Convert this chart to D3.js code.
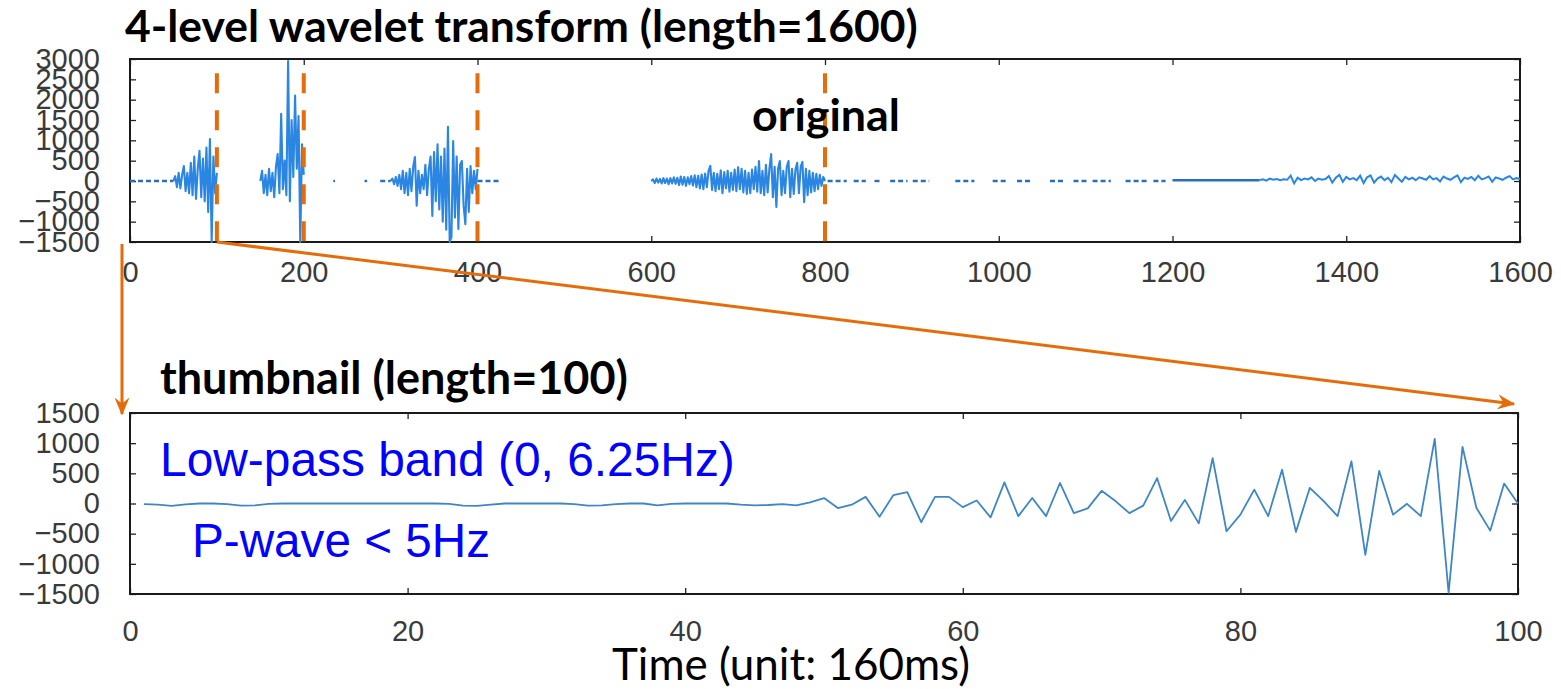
<!DOCTYPE html>
<html><head><meta charset="utf-8">
<script src="https://cdn.jsdelivr.net/npm/d3@7"></script>
<style>body{margin:0;background:#fff;} svg{display:block}</style>
</head><body>
<svg id="c" width="1561" height="689"></svg>
<script>
// ---------------- data ----------------
const topXTicks = [0,200,400,600,800,1000,1200,1400,1600];
const topYTicks = [3000,2500,2000,1500,1000,500,0,-500,-1000,-1500];
const botXTicks = [0,20,40,60,80,100];
const botYTicks = [1500,1000,500,0,-500,-1000,-1500];
const markerPositions = [100,200,400,800];

const burstStarts = [50,150,300,600];
const burstStep = 2;
const burst1 = [0,120,-150,200,-180,150,370,-250,200,-300,450,-350,600,-440,300,740,-400,550,-500,820,-760,1030,-1500,600,-300,200];
const burst2 = [0,250,-300,150,-350,300,-250,200,-400,350,660,-300,1650,-200,500,-350,2950,-500,1500,100,2100,300,1600,-1500,900,150];
const burst3 = [0,60,-80,100,-120,150,-200,250,-300,200,
  -350,300,-250,350,590,-610,250,-300,150,-200,
  400,-350,300,600,-860,710,-500,900,-700,600,
  -1000,800,-1200,1330,-1500,-1380,980,-900,600,-1180,
  400,490,-600,-1060,300,-760,370,-300,250,-200,300];
const burst4 = [0,40,-50,60,-40,50,-60,70,-50,60,
  -80,70,-60,90,-70,80,-100,110,-90,100,
  -120,90,-80,120,-110,140,-150,130,-180,160,
  -200,180,-150,250,370,-220,200,-250,180,-200,
  260,-300,220,-180,250,-260,200,-220,280,-250,
  340,-200,300,-280,250,-320,200,-300,280,-200,
  350,-260,490,-300,250,-350,400,-280,300,660,
  -400,350,-640,300,490,-350,250,-300,350,490,
  -400,300,-320,280,450,-300,350,470,-520,300,
  -350,250,-280,200,-250,180,-200,150,-120,100,0];
const tailStart = 1300, tailStep = 4;
const tailValues = [20,40,10,60,30,50,20,40,30,130,
  -60,80,20,60,40,90,0,60,30,50,
  120,-40,80,150,-20,100,40,70,20,130,
  -50,90,140,-40,60,110,20,80,-30,150,
  60,-20,100,40,80,20,90,60,30,120,
  40,70,-10,110,60,30,90,140,-30,80,
  50,100,20,130,40,70,110,-20,90,60,
  30,80,120,40,70,50];
const flatDashed = [[0,50],[234,236],[270,273],[288,300],[400,426],[803,825],[833,847],[857,866],[875,895],[901,920],[950,972],[993,1010],[1021,1037],[1059,1075],[1086,1102],[1108,1129],[1146,1173],[1178,1192]];
const flatSolid = [[1200,1300]];

const thumbValues = [-10,-20,-40,-15,0,0,-10,-35,-30,-5,
  0,0,0,0,0,0,0,0,0,0,
  0,0,-5,-35,-40,-20,0,0,0,0,
  0,-10,-35,-30,-10,0,0,-30,-5,0,
  0,0,0,-20,-30,-25,-10,-30,20,90,
  -75,-20,110,-220,140,190,-310,110,110,-60,
  50,-230,350,-210,90,-210,340,-160,-80,210,
  40,-160,-35,420,-290,60,-330,750,-460,-185,
  230,-210,560,-470,260,40,-210,700,-850,540,
  -185,-5,-210,1070,-1480,940,-70,-450,330,0];

const titleTop = "4-level wavelet transform (length=1600)";
const labelOriginal = "original";
const titleBottom = "thumbnail (length=100)";
const bandText = "Low-pass band (0, 6.25Hz)";
const pwaveText = "P-wave < 5Hz";
const xAxisTitle = "Time (unit: 160ms)";

// ---------------- drawing ----------------
const svg = d3.select("#c");
const ORANGE = "#e46c0a";
const BLUE = "#2a86e2";

const xTop = d3.scaleLinear([0,1600],[130,1520]);
const yTop = d3.scaleLinear([-1500,3000],[242,59]);
const xBot = d3.scaleLinear([0,100],[130,1518]);
const yBot = d3.scaleLinear([-1500,1500],[594,413]);

const labelFont = "'Liberation Sans', Arial, sans-serif";
const titleFont = "Lato, 'Open Sans', sans-serif";
const fmt = d3.format("d");

function drawPanel(x, y, xt, yt, xPad) {
  const g = svg.append("g");
  const [x0,x1] = x.range(), [y1,y0] = y.range();
  const ax = [
    [d3.axisBottom(x).tickValues(xt).tickSize(-6).tickPadding(xPad).tickFormat(fmt), `translate(0,${y1})`],
    [d3.axisTop(x).tickValues(xt).tickSize(-6).tickFormat(""), `translate(0,${y0})`],
    [d3.axisLeft(y).tickValues(yt).tickSize(-6).tickPadding(30).tickFormat(fmt), `translate(${x0},0)`],
    [d3.axisRight(y).tickValues(yt).tickSize(-6).tickFormat(""), `translate(${x1},0)`]
  ];
  ax.forEach(([a,t]) => {
    const s = g.append("g").attr("transform", t).call(a);
    s.select(".domain").remove();
    s.selectAll("line").attr("stroke","#222").attr("stroke-width",1.3);
    s.selectAll("text").attr("font-family", labelFont).attr("font-size", 29).attr("fill","#3a3a3a");
  });
  g.append("rect").attr("x",x0).attr("y",y0).attr("width",x1-x0).attr("height",y1-y0)
    .attr("fill","none").attr("stroke","#1a1a1a").attr("stroke-width",2);
  return g;
}

const gTop = drawPanel(xTop, yTop, topXTicks, topYTicks, 19);
const gBot = drawPanel(xBot, yBot, botXTicks, botYTicks, 26);

// top signal
const lineTop = d3.line().x(d => xTop(d[0])).y(d => yTop(d[1]));
const plotTop = svg.append("g");
[burst1,burst2,burst3,burst4].forEach((vals,k) => {
  const pts = vals.map((v,i) => [burstStarts[k] + i*burstStep, v]);
  plotTop.append("path").attr("d", lineTop(pts)).attr("fill","none")
    .attr("stroke", BLUE).attr("stroke-width",2.1).attr("stroke-linejoin","round");
});
plotTop.append("path").attr("d", lineTop(tailValues.map((v,i)=>[tailStart+i*tailStep, v])))
  .attr("fill","none").attr("stroke",BLUE).attr("stroke-width",2);
flatDashed.forEach(([a,b]) => {
  plotTop.append("path").attr("d", lineTop([[a,0],[b,0]])).attr("fill","none")
    .attr("stroke","#2a6fb8").attr("stroke-width",2.4).attr("stroke-dasharray","5,3");
});
flatSolid.forEach(([a,b]) => {
  plotTop.append("path").attr("d", lineTop([[a,20],[b,20]])).attr("fill","none")
    .attr("stroke","#2a6fb8").attr("stroke-width",2.4);
});

// bottom signal
const lineBot = d3.line().x(d => xBot(d[0])).y(d => yBot(d[1]));
svg.append("path").attr("d", lineBot(thumbValues.map((v,i)=>[i+1, v])))
  .attr("fill","none").attr("stroke","#3f86c4").attr("stroke-width",1.8).attr("stroke-linejoin","round");

// dashed orange markers
markerPositions.forEach(p => {
  svg.append("line").attr("x1", xTop(p)).attr("x2", xTop(p))
    .attr("y1", yTop(2650)).attr("y2", yTop(-1500))
    .attr("stroke", ORANGE).attr("stroke-width",4).attr("stroke-dasharray","20,17");
});

// arrows
const defs = svg.append("defs");
defs.append("marker").attr("id","ah").attr("viewBox","0 0 12 10").attr("refX",11).attr("refY",5)
  .attr("markerWidth",6).attr("markerHeight",6).attr("markerUnits","strokeWidth").attr("orient","auto")
  .append("path").attr("d","M0,0 L12,5 L0,10 L4,5 Z").attr("fill",ORANGE);
svg.append("line").attr("x1", xTop(100)).attr("y1", yTop(-1500))
  .attr("x2", xBot(100) - 4).attr("y2", yBot(1500) - 9)
  .attr("stroke",ORANGE).attr("stroke-width",3).attr("marker-end","url(#ah)");
svg.append("line").attr("x1", xTop(0) - 8).attr("y1", yTop(-1500) + 2)
  .attr("x2", xTop(0) - 8).attr("y2", yBot(1500) + 1)
  .attr("stroke",ORANGE).attr("stroke-width",3).attr("marker-end","url(#ah)");

// texts
function fitText(sel, w) {
  sel.attr("font-size",100);
  const L = sel.node().getComputedTextLength();
  sel.attr("font-size", 100*w/L);
  return sel;
}
fitText(svg.append("text").attr("x",125).attr("y",42).attr("font-family",titleFont)
  .attr("font-weight","bold").attr("fill","#000").text(titleTop), 793);
fitText(svg.append("text").attr("x",752).attr("y",131).attr("font-family",titleFont)
  .attr("font-weight","bold").attr("fill","#000").text(labelOriginal), 148);
fitText(svg.append("text").attr("x",160).attr("y",394).attr("font-family",titleFont)
  .attr("font-weight","bold").attr("fill","#000").text(titleBottom), 468);
fitText(svg.append("text").attr("x",160).attr("y",476).attr("font-family",labelFont)
  .attr("fill","#0000ff").text(bandText), 575);
fitText(svg.append("text").attr("x",192).attr("y",557).attr("font-family",labelFont)
  .attr("fill","#0000ff").text(pwaveText), 298);
fitText(svg.append("text").attr("x",612).attr("y",680).attr("font-family",titleFont)
  .attr("fill","#000").text(xAxisTitle), 358);
</script>
</body></html>
